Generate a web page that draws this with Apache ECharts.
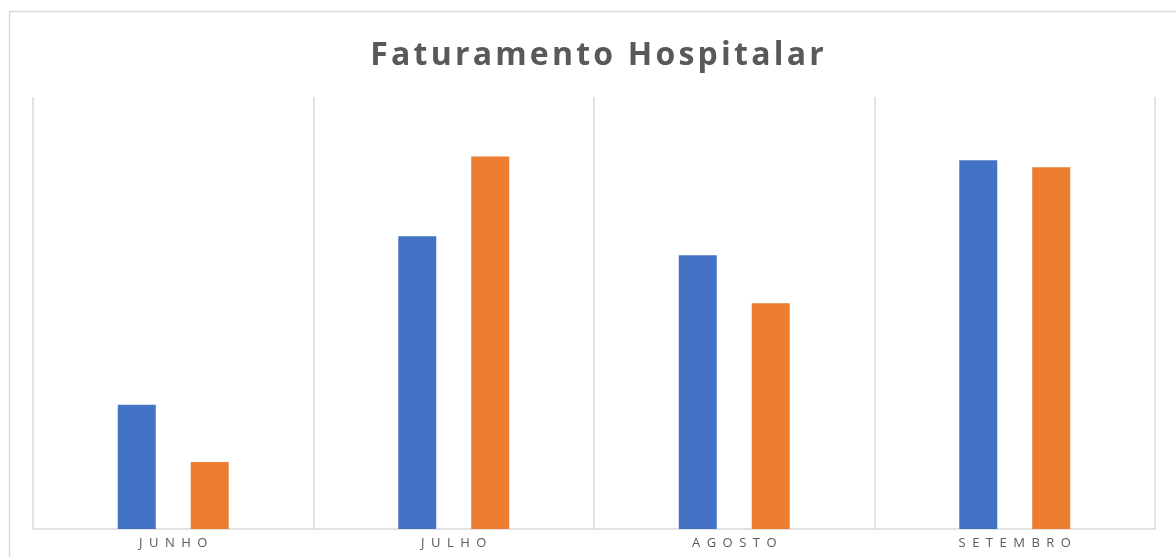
<!DOCTYPE html>
<html>
<head>
<meta charset="utf-8">
<script src="https://cdn.jsdelivr.net/npm/echarts@6/dist/echarts.min.js"></script>
<style>
  html, body { margin: 0; padding: 0; background: #fff; }
  #chart { width: 1176px; height: 557px; }
</style>
</head>
<body>
<div id="chart"></div>
<script>
// values (arbitrary units, axis is hidden)
const months = ['JUNHO', 'JULHO', 'AGOSTO', 'SETEMBRO'];
const serieA = [1150, 2710, 2535, 3415];
const serieB = [620, 3450, 2090, 3350];

// Excel-style letter spacing, faked with spacing chars between glyphs
const spaced = (s, gap) => s.split('').join(gap);

const GRID_LINE = '#d9d9d9';
const TEXT = '#595959';

const c = echarts.init(document.getElementById('chart'), null, { renderer: 'canvas' });
c.setOption({
  animation: false,
  title: {
    text: spaced('Faturamento Hospitalar', '\u200A'),
    left: 592, top: 35, textAlign: 'center',
    textStyle: { color: TEXT, fontFamily: 'Open Sans', fontWeight: 'bold', fontSize: 32 },
  },
  graphic: [{
    type: 'rect', silent: true,
    shape: { x: 9.5, y: 11.5, width: 1200, height: 600 },
    style: { fill: 'none', stroke: GRID_LINE, lineWidth: 1.5 },
  }],
  grid: { left: 33, right: 21, top: 97, bottom: 28 },
  xAxis: {
    type: 'category', data: months,
    axisLine: { lineStyle: { color: GRID_LINE, width: 1.5 } },
    axisTick: { show: false },
    splitLine: { show: true, interval: 0, lineStyle: { color: GRID_LINE, width: 1.5 } },
    axisLabel: {
      color: TEXT, fontFamily: 'Open Sans', fontSize: 13, margin: 8,
      formatter: v => spaced(v, '\u2002'),
    },
  },
  yAxis: { type: 'value', min: 0, max: 4000, show: false, splitLine: { show: false } },
  series: [
    { type: 'bar', data: serieA, barWidth: 38, barGap: '92%', itemStyle: { color: '#4472C4' } },
    { type: 'bar', data: serieB, barWidth: 38, itemStyle: { color: '#ED7D31' } },
  ],
});
</script>
</body>
</html>
